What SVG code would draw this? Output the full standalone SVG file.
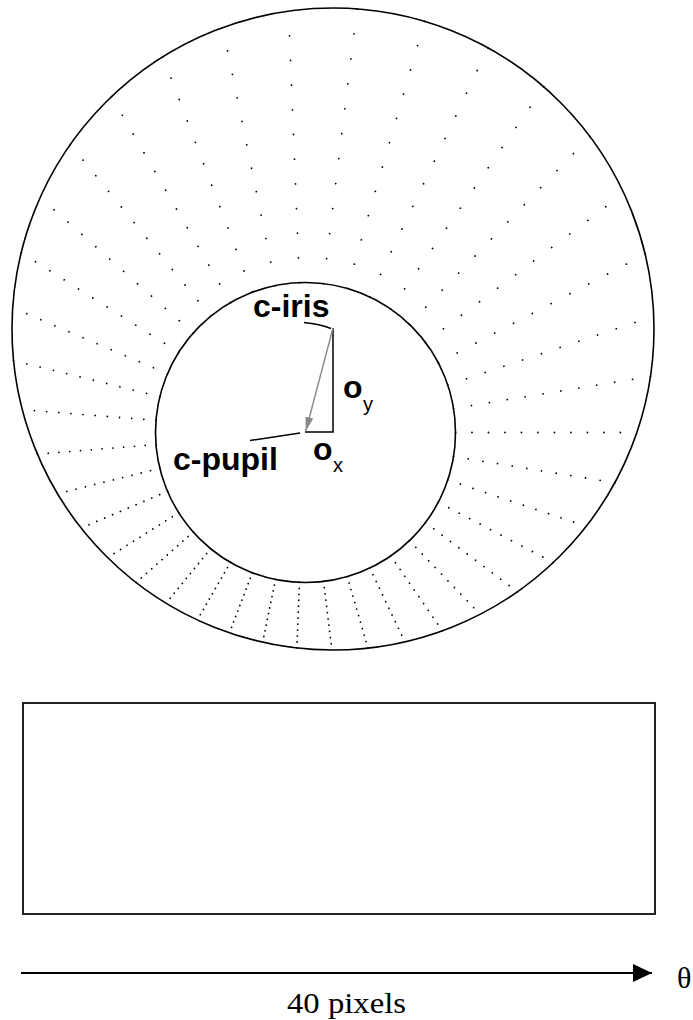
<svg xmlns="http://www.w3.org/2000/svg" width="693" height="1020" viewBox="0 0 693 1020">
<style>
.circ{fill:none;stroke:#000;stroke-width:1.6}
.ray{fill:none;stroke:#000;stroke-width:1.8;stroke-linecap:round;stroke-dasharray:0 1}
.lbl{font-family:"Liberation Sans",Arial,sans-serif;font-weight:bold;font-size:32px;fill:#000}
.sub{font-family:"Liberation Sans",Arial,sans-serif;font-size:20px;fill:#000}
.ser{font-family:"Liberation Serif","Times New Roman",serif;fill:#000}
.ln{fill:none;stroke:#000;stroke-width:1.5}
</style>
<defs>
<marker id="ga" markerWidth="14" markerHeight="8" refX="14" refY="4" orient="auto" markerUnits="userSpaceOnUse"><path d="M0,0L14,4L0,8z" fill="#888"/></marker>
<marker id="ba" markerWidth="19" markerHeight="18" refX="19" refY="9" orient="auto" markerUnits="userSpaceOnUse"><path d="M0,0L19,9L0,18z" fill="#000"/></marker>
</defs>
<rect width="693" height="1020" fill="#fff"/>
<g id="rays">
<path class="ray" pathLength="11" d="M455.5 432.5H636.86" transform="rotate(0 305.5 432.5)"/>
<path class="ray" pathLength="11" d="M455.5 432.5H618.84" transform="rotate(9.2308 305.5 432.5)"/>
<path class="ray" pathLength="11" d="M455.5 432.5H601.49" transform="rotate(18.4615 305.5 432.5)"/>
<path class="ray" pathLength="11" d="M455.5 432.5H585.29" transform="rotate(27.6923 305.5 432.5)"/>
<path class="ray" pathLength="11" d="M455.5 432.5H570.57" transform="rotate(36.9231 305.5 432.5)"/>
<path class="ray" pathLength="11" d="M455.5 432.5H557.58" transform="rotate(46.1538 305.5 432.5)"/>
<path class="ray" pathLength="11" d="M455.5 432.5H546.45" transform="rotate(55.3846 305.5 432.5)"/>
<path class="ray" pathLength="11" d="M455.5 432.5H537.23" transform="rotate(64.6154 305.5 432.5)"/>
<path class="ray" pathLength="11" d="M455.5 432.5H529.95" transform="rotate(73.8462 305.5 432.5)"/>
<path class="ray" pathLength="11" d="M455.5 432.5H524.60" transform="rotate(83.0769 305.5 432.5)"/>
<path class="ray" pathLength="11" d="M455.5 432.5H521.13" transform="rotate(92.3077 305.5 432.5)"/>
<path class="ray" pathLength="11" d="M455.5 432.5H519.53" transform="rotate(101.5385 305.5 432.5)"/>
<path class="ray" pathLength="11" d="M455.5 432.5H519.79" transform="rotate(110.7692 305.5 432.5)"/>
<path class="ray" pathLength="11" d="M455.5 432.5H521.90" transform="rotate(120 305.5 432.5)"/>
<path class="ray" pathLength="11" d="M455.5 432.5H525.88" transform="rotate(129.2308 305.5 432.5)"/>
<path class="ray" pathLength="11" d="M455.5 432.5H531.77" transform="rotate(138.4615 305.5 432.5)"/>
<path class="ray" pathLength="11" d="M455.5 432.5H539.58" transform="rotate(147.6923 305.5 432.5)"/>
<path class="ray" pathLength="11" d="M455.5 432.5H549.33" transform="rotate(156.9231 305.5 432.5)"/>
<path class="ray" pathLength="11" d="M455.5 432.5H560.99" transform="rotate(166.1538 305.5 432.5)"/>
<path class="ray" pathLength="11" d="M455.5 432.5H574.47" transform="rotate(175.3846 305.5 432.5)"/>
<path class="ray" pathLength="11" d="M455.5 432.5H589.63" transform="rotate(184.6154 305.5 432.5)"/>
<path class="ray" pathLength="11" d="M455.5 432.5H606.19" transform="rotate(193.8462 305.5 432.5)"/>
<path class="ray" pathLength="11" d="M455.5 432.5H623.77" transform="rotate(203.0769 305.5 432.5)"/>
<path class="ray" pathLength="11" d="M455.5 432.5H641.88" transform="rotate(212.3077 305.5 432.5)"/>
<path class="ray" pathLength="11" d="M455.5 432.5H659.95" transform="rotate(221.5385 305.5 432.5)"/>
<path class="ray" pathLength="11" d="M455.5 432.5H677.33" transform="rotate(230.7692 305.5 432.5)"/>
<path class="ray" pathLength="11" d="M455.5 432.5H693.36" transform="rotate(240 305.5 432.5)"/>
<path class="ray" pathLength="11" d="M455.5 432.5H707.40" transform="rotate(249.2308 305.5 432.5)"/>
<path class="ray" pathLength="11" d="M455.5 432.5H718.85" transform="rotate(258.4615 305.5 432.5)"/>
<path class="ray" pathLength="11" d="M455.5 432.5H727.25" transform="rotate(267.6923 305.5 432.5)"/>
<path class="ray" pathLength="11" d="M455.5 432.5H732.22" transform="rotate(276.9231 305.5 432.5)"/>
<path class="ray" pathLength="11" d="M455.5 432.5H733.56" transform="rotate(286.1538 305.5 432.5)"/>
<path class="ray" pathLength="11" d="M455.5 432.5H731.20" transform="rotate(295.3846 305.5 432.5)"/>
<path class="ray" pathLength="11" d="M455.5 432.5H725.26" transform="rotate(304.6154 305.5 432.5)"/>
<path class="ray" pathLength="11" d="M455.5 432.5H715.98" transform="rotate(313.8462 305.5 432.5)"/>
<path class="ray" pathLength="11" d="M455.5 432.5H703.76" transform="rotate(323.0769 305.5 432.5)"/>
<path class="ray" pathLength="11" d="M455.5 432.5H689.11" transform="rotate(332.3077 305.5 432.5)"/>
<path class="ray" pathLength="11" d="M455.5 432.5H672.64" transform="rotate(341.5385 305.5 432.5)"/>
<path class="ray" pathLength="11" d="M455.5 432.5H655.00" transform="rotate(350.7692 305.5 432.5)"/>
</g>
<g id="iris-boundary"><circle class="circ" cx="333" cy="329" r="321"/></g>
<g id="pupil-boundary"><circle class="circ" cx="305.5" cy="432.5" r="150"/></g>
<g id="connectors">
<path class="ln" d="M333 328V432H305"/>
<path d="M333 328L305.8 431" fill="none" stroke="#888" stroke-width="1.4" marker-end="url(#ga)"/>
<path class="ln" d="M304 322.5Q320 324 331 328.5" stroke-width="1.3"/>
<path class="ln" d="M250 440.5L300 433" stroke-width="1.3"/>
<path d="M21 973H652" fill="none" stroke="#000" stroke-width="2" marker-end="url(#ba)"/>
</g>
<g id="label-c-iris"><text class="lbl" x="253" y="317">c-iris</text></g>
<g id="label-c-pupil"><text class="lbl" x="173" y="470">c-pupil</text></g>
<g id="label-oy"><text class="lbl" x="343" y="398">o</text><text class="sub" x="363" y="411">y</text></g>
<g id="label-ox"><text class="lbl" x="313" y="460">o</text><text class="sub" x="333" y="472">x</text></g>
<g id="unwrapped"><rect x="23" y="703" width="632" height="211" fill="none" stroke="#222" stroke-width="2"/></g>
<g id="label-theta"><text class="ser" x="677" y="988" font-size="30">θ</text></g>
<g id="label-40px"><text class="ser" x="287" y="1013" font-size="30" textLength="119" lengthAdjust="spacingAndGlyphs">40 pixels</text></g>
</svg>
